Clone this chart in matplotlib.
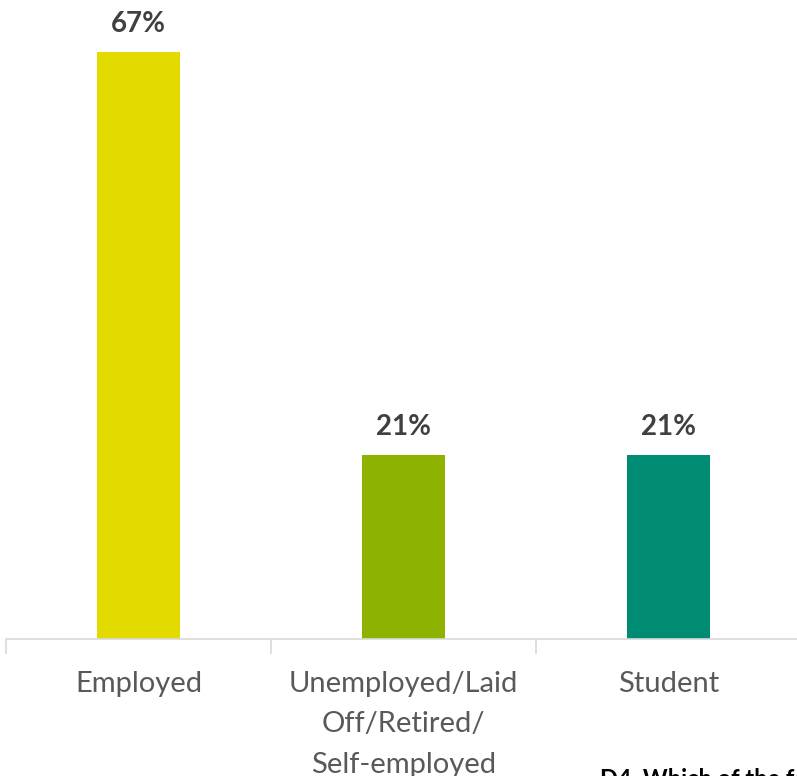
import matplotlib.pyplot as plt

categories = ['Employed', 'Unemployed/Laid\nOff/Retired/\nSelf-employed', 'Student']
values = [67, 21, 21]
colors = ['#E3DA00', '#8DB300', '#008C72']
note = 'D4. Which of the following'

plt.rcParams['font.family'] = ['Lato', 'DejaVu Sans']

fig = plt.figure(figsize=(7.97, 7.76), dpi=100)
# axis spans x 6..801 px, baseline at y=639 px
ax = fig.add_axes([6 / 797, 137 / 776, 795 / 797, 613 / 776])

x = range(len(categories))
bars = ax.bar(x, values, width=0.313, color=colors)
ax.set_xlim(-0.5, len(categories) - 0.5)
ax.set_ylim(0, 70)

for b, v in zip(bars, values):
    ax.annotate(f'{v}%', (b.get_x() + b.get_width() / 2, v),
                xytext=(0, 11), textcoords='offset points',
                ha='center', va='bottom', fontsize=20, fontweight='bold',
                color='#404040', annotation_clip=False)

ax.set_xticks([-0.5, 0.5, 1.5, 2.5])
ax.set_xticklabels([])
ax.set_xticks(list(x), minor=True)
ax.set_xticklabels(categories, minor=True, fontsize=21, color='#595959',
                   linespacing=1.68)
ax.tick_params(axis='x', which='major', length=11, color='#D9D9D9', width=1.2)
ax.tick_params(axis='x', which='minor', length=0, pad=23)
ax.set_yticks([])

for s in ['top', 'right', 'left']:
    ax.spines[s].set_visible(False)
ax.spines['bottom'].set_color('#D9D9D9')
ax.spines['bottom'].set_linewidth(1.2)

fig.text(600 / 797, 1 - 768 / 776, note, ha='left', va='top',
         fontsize=17, fontweight='bold', color='#000000')

fig.savefig('out.png', dpi=100)
